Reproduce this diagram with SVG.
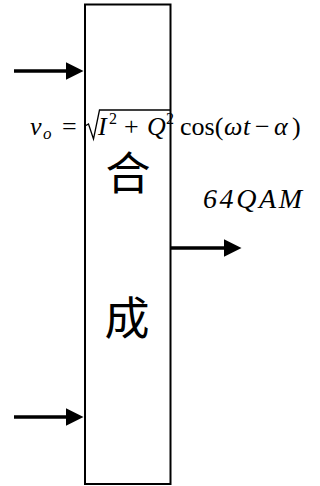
<svg xmlns="http://www.w3.org/2000/svg" width="320" height="486" viewBox="0 0 320 486">
<style>
.ln{stroke:#000;stroke-width:3.5;fill:none}
.box{fill:#fff;stroke:#000;stroke-width:2}
.m{font-family:"Liberation Serif","DejaVu Serif",serif;fill:#000;font-size:26px}
.i{font-style:italic}
.sup{font-size:16px}
.sub{font-size:17px}
.big{font-size:28px}
.cjk{font-family:"Noto Sans CJK SC","Noto Sans CJK JP",sans-serif;font-size:45px;fill:#000;text-anchor:middle}
</style>
<defs>
<marker id="ah" markerWidth="5" markerHeight="5" refX="0" refY="2.5" orient="auto" markerUnits="strokeWidth">
<path d="M0,0 L5,2.5 L0,5 z" fill="#000"/>
</marker>
</defs>
<g id="block">
<rect class="box" x="85" y="4.5" width="85.5" height="479.5"/>
<text class="cjk" x="128" y="190">合</text>
<text class="cjk" x="127" y="335">成</text>
</g>
<g id="connectors">
<line class="ln" x1="14" y1="71" x2="66" y2="71" marker-end="url(#ah)"/>
<line class="ln" x1="14" y1="417" x2="66" y2="417" marker-end="url(#ah)"/>
<line class="ln" x1="171" y1="248" x2="224" y2="248" marker-end="url(#ah)"/>
</g>
<g id="formula">
<text class="m i" x="30" y="135">v</text>
<text class="m i sub" x="43" y="139">o</text>
<text class="m" x="62" y="135">=</text>
<path d="M85,126 L88.5,124 L93.5,139 L99.5,110 L171,110" stroke="#000" stroke-width="1.3" fill="none"/>
<text class="m i" x="98" y="135">I</text>
<text class="m sup" x="109" y="124">2</text>
<text class="m" x="124" y="135">+</text>
<text class="m i" x="147" y="135">Q</text>
<text class="m sup" x="166" y="124">2</text>
<text class="m" x="180" y="135">cos(</text>
<text class="m i" x="224" y="135">ω</text>
<text class="m i" x="243" y="135">t</text>
<text class="m" x="255" y="135">−</text>
<text class="m i" x="274" y="135">α</text>
<text class="m" x="292" y="135">)</text>
</g>
<g id="label">
<text class="m i big" x="203" y="208" textLength="99" lengthAdjust="spacing">64QAM</text>
</g>
</svg>
